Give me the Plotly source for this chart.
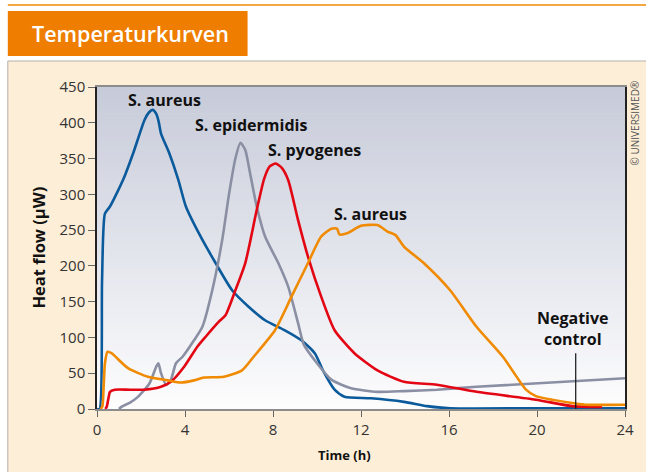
import plotly.graph_objects as go

# ---------------- data ----------------
aureus1_x = [0, 0.12, 0.23, 0.36, 0.59, 0.89, 1.25, 1.64, 2.16, 2.35, 2.54, 2.7, 2.8, 2.91, 3.29, 3.7, 4.04,
             4.64, 5.39, 6.14, 6.89, 7.64, 8.54, 9.29, 9.9, 10.27, 10.8, 11.25, 12.45, 13.95, 15.0,
             16.05, 20, 24]
aureus1_y = [0, 0, 180, 273, 283, 301, 325, 357, 404, 414, 418, 412, 402, 385, 357, 320, 283,
             245, 204, 166, 143, 124, 110, 96, 78, 54, 27, 17, 15, 10, 4,
             1, 1, 1]

epi_x = [1.0, 1.11, 1.5, 1.86, 2.39, 2.69, 2.79, 2.91, 3.14, 3.36, 3.59, 3.89, 4.41, 4.79, 5.24,
         5.69, 6.0, 6.29, 6.52, 6.74, 6.96, 7.26, 7.64, 8.24, 8.69, 9.14, 9.4, 9.9, 10.65, 11.55,
         12.75, 13.95, 15.45, 17.25, 24]
epi_y = [0, 3, 9, 17, 36, 59, 64, 50, 34, 41, 64, 73, 96, 115, 166,
         236, 300, 350, 372, 362, 329, 283, 241, 204, 171, 120, 90, 68, 41, 29,
         24, 25, 27, 31, 43]

pyo_x = [0.38, 0.44, 0.52, 0.59, 0.81, 1.5, 2.16, 2.91, 3.36, 3.96, 4.56, 4.94, 5.54, 5.84, 6.29,
         6.74, 7.26, 7.6, 7.85, 8.12, 8.4, 8.69, 9.14, 9.59, 10.19, 10.8, 11.7, 12.75, 13.95, 15.45,
         17.25, 19.95, 21.6, 22.96]
pyo_y = [0, 3, 15, 24, 27, 27, 27, 31, 38, 59, 87, 101, 122, 131, 166,
         204, 278, 322, 339, 343, 337, 320, 264, 213, 157, 110, 78, 54, 38, 34,
         24, 13, 4, 3]

aureus2_x = [0.15, 0.24, 0.3, 0.36, 0.48, 0.66, 1.41, 2.31, 3.21, 3.81, 4.41, 4.86, 5.77, 6.59,
             7.12, 8.09, 8.84, 9.59, 10.19, 10.65, 10.91, 11.02, 11.4, 12.0, 12.75, 13.2, 13.57,
             13.95, 14.85, 16.05, 17.25, 18.45, 19.5, 19.95, 21.45, 22.2, 24]
aureus2_y = [0, 3, 30, 64, 80, 78, 57, 45, 40, 37, 40, 44, 45, 54,
             73, 110, 157, 204, 241, 252, 252, 244, 246, 256, 257, 248, 243,
             227, 204, 166, 115, 73, 27, 18, 9, 6, 6]

negctrl_x = [21.76, 21.76]
negctrl_y = [0, 78]

x_ticks = [0, 4, 8, 12, 16, 20, 24]
y_ticks = [0, 50, 100, 150, 200, 250, 300, 350, 400, 450]

labels = ["S. aureus", "S. epidermidis", "S. pyogenes", "S. aureus", "Negative<br>control"]
label_x = [3.06, 6.98, 9.9, 12.45, 21.62]
label_y = [432, 397, 362, 272, 113]

# ---------------- figure ----------------
FONT = "Open Sans"
fig = go.Figure()

series = [
    (aureus1_x, aureus1_y, "#0A5A9C"),
    (epi_x, epi_y, "#8A8FA3"),
    (pyo_x, pyo_y, "#E30613"),
    (aureus2_x, aureus2_y, "#F08A00"),
]
for xs, ys, col in series:
    fig.add_trace(go.Scatter(x=xs, y=ys, mode="lines", line=dict(color=col, width=2.6, shape="spline", smoothing=0.6),
                             hoverinfo="skip", showlegend=False))

fig.add_trace(go.Scatter(x=negctrl_x, y=negctrl_y, mode="lines", line=dict(color="#111111", width=1.2),
                         hoverinfo="skip", showlegend=False))

shapes = []
# cream panel
shapes.append(dict(type="rect", xref="paper", yref="paper", x0=-0.1689, x1=1.06, y0=-0.25, y1=1.0807,
                   fillcolor="#FDEED7", line=dict(color="#B5B0A8", width=1), layer="below"))
# gradient plot background
N = 60
top = (199, 203, 217)
bot = (253, 253, 254)
for i in range(N):
    t = (i + 0.5) / N
    c = tuple(int(round(bot[k] + (top[k] - bot[k]) * t)) for k in range(3))
    shapes.append(dict(type="rect", xref="paper", yref="paper", x0=0, x1=1, y0=i / N, y1=(i + 1) / N + 0.002,
                       fillcolor="rgb(%d,%d,%d)" % c, line=dict(width=0), layer="below"))
# orange top rule
shapes.append(dict(type="line", xref="paper", yref="paper", x0=-0.1689, x1=1.06, y0=1.2547, y1=1.2547,
                   line=dict(color="#F08A00", width=1.5)))
# orange title box
shapes.append(dict(type="rect", xref="paper", yref="paper", x0=-0.1689, x1=0.2852, y0=1.0963, y1=1.236,
                   fillcolor="#EE7D00", line=dict(width=0), layer="below"))

annotations = []
for t, xv, yv in zip(labels, label_x, label_y):
    annotations.append(dict(x=xv, y=yv, xref="x", yref="y", text="<b>" + t + "</b>", showarrow=False,
                            font=dict(family=FONT, size=16, color="#111111"), xanchor="center", yanchor="middle"))
annotations.append(dict(x=-0.126, y=1.1661, xref="paper", yref="paper", text="Temperaturkurven",
                        showarrow=False, xanchor="left", yanchor="middle",
                        font=dict(family=FONT, size=21.5, color="white", weight=600)))
annotations.append(dict(x=-0.1126, y=0.5, xref="paper", yref="paper", text="<b>Heat flow (μW)</b>",
                        showarrow=False, textangle=-90, xanchor="center", yanchor="middle",
                        font=dict(family=FONT, size=16.5, color="#111111")))
annotations.append(dict(x=0.469, y=-0.1429, xref="paper", yref="paper", text="<b>Time (h)</b>",
                        showarrow=False, xanchor="center", yanchor="middle",
                        font=dict(family=FONT, size=13, color="#111111")))
annotations.append(dict(x=1.019, y=0.887, xref="paper", yref="paper", text="© UNIVERSIMED®",
                        showarrow=False, textangle=-90, xanchor="center", yanchor="middle",
                        font=dict(family=FONT, size=10, color="#555555")))

fig.update_layout(
    width=646, height=472,
    margin=dict(l=97, r=15, t=87, b=63),
    paper_bgcolor="white",
    plot_bgcolor="rgba(0,0,0,0)",
    shapes=shapes,
    annotations=annotations,
    showlegend=False,
    xaxis=dict(range=[0, 24], tickvals=x_ticks, ticks="outside", ticklen=6, tickcolor="#666666", tickwidth=1.2,
               showline=True, linecolor="#8C8C8C", linewidth=1.5, mirror=True, showgrid=False, zeroline=False,
               tickfont=dict(family=FONT, size=15, color="#333333")),
    yaxis=dict(range=[0, 450], tickvals=y_ticks, ticks="outside", ticklen=7, tickcolor="#666666", tickwidth=1.2,
               showline=True, linecolor="#222222", linewidth=1.5, mirror=True, showgrid=False, zeroline=False,
               tickfont=dict(family=FONT, size=15, color="#333333")),
)

fig.write_html("out.html", config={"displayModeBar": False},
               post_script="document.body.style.margin='0';document.body.style.overflow='hidden';")
